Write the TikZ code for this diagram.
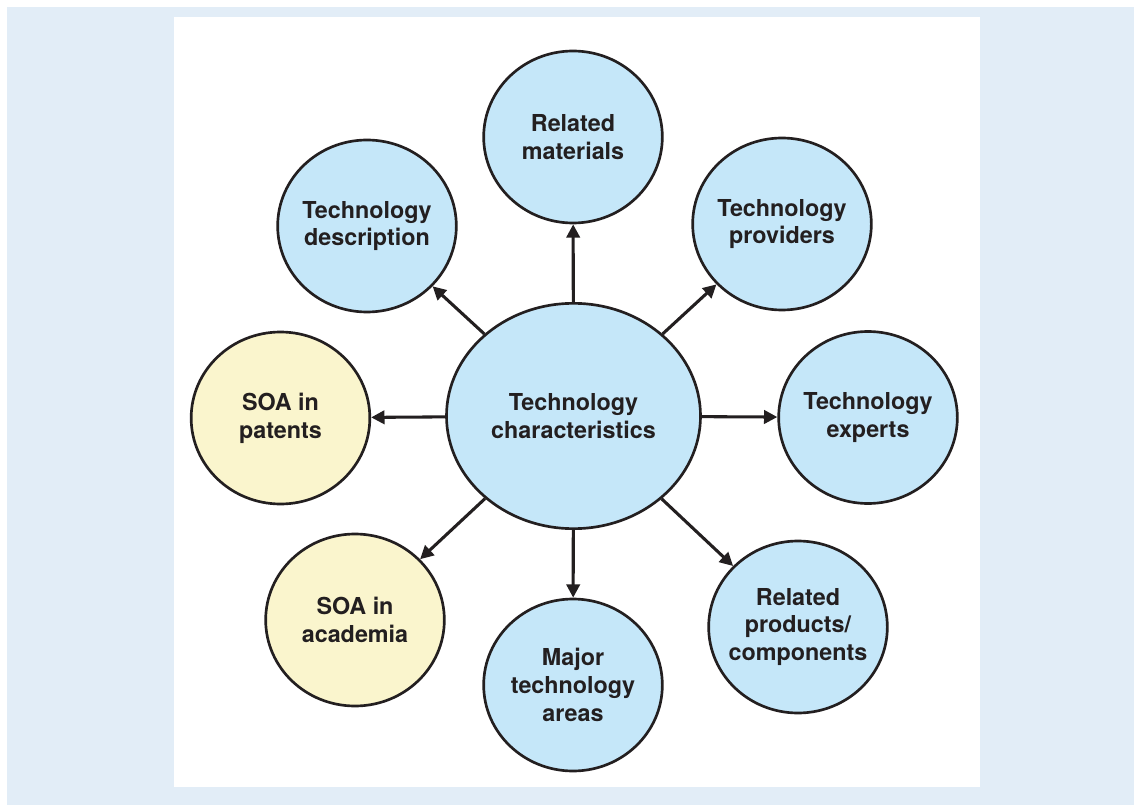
\documentclass[tikz,border=0pt]{standalone}
\usepackage{fontspec}
\setmainfont{TeX Gyre Heros}
\usetikzlibrary{shapes.geometric,arrows.meta}
\definecolor{pagebg}{RGB}{226,237,247}
\definecolor{bubble}{RGB}{197,231,249}
\definecolor{soa}{RGB}{250,245,205}
\definecolor{ink}{RGB}{35,31,32}
\begin{document}
\begin{tikzpicture}[x=0.75pt,y=-0.75pt,
  % negative inner sep lets the minimum size alone fix each bubble
  bubblebase/.style={ellipse, draw=ink, line width=2pt, text=ink,
    font=\fontsize{17.5}{20.8}\selectfont\bfseries, align=center, inner sep=-30pt},
  topic/.style={bubblebase, fill=bubble, minimum width=134pt, minimum height=129pt},
  soatopic/.style={topic, fill=soa},
  hub/.style={bubblebase, fill=bubble, minimum width=190.5pt, minimum height=169pt},
  link/.style={draw=ink, line width=2.3pt, -{Triangle[length=10pt,width=10pt]}}]

% page frame
\useasboundingbox (0,0) rectangle (1134,805);
\fill[pagebg] (7,7) rectangle (1134,805);
\fill[white] (174,17) rectangle (980,787);

% central topic
\node[hub] (hub) at (573.5,416) {Technology\\characteristics};

% surrounding topics
\node[topic] (mat)   at (573,137)   {Related\\materials};
\node[topic] (desc)  at (367,226)   {Technology\\description};
\node[topic] (prov)  at (782,224)   {Technology\\providers};
\node[topic] (exp)   at (868,417.5) {Technology\\experts};
\node[soatopic] (pat)  at (280.5,418) {SOA in\\patents};
\node[soatopic] (acad) at (355,620)   {SOA in\\academia};
\node[topic] (areas) at (573,685)   {Major\\technology\\areas};
\node[topic] (prod)  at (798,627)   {Related\\products/\\components};

% connectors
\foreach \t in {mat,desc,prov,exp,pat,acad,areas,prod}
  \draw[link] (hub) -- (\t);
\end{tikzpicture}
\end{document}
